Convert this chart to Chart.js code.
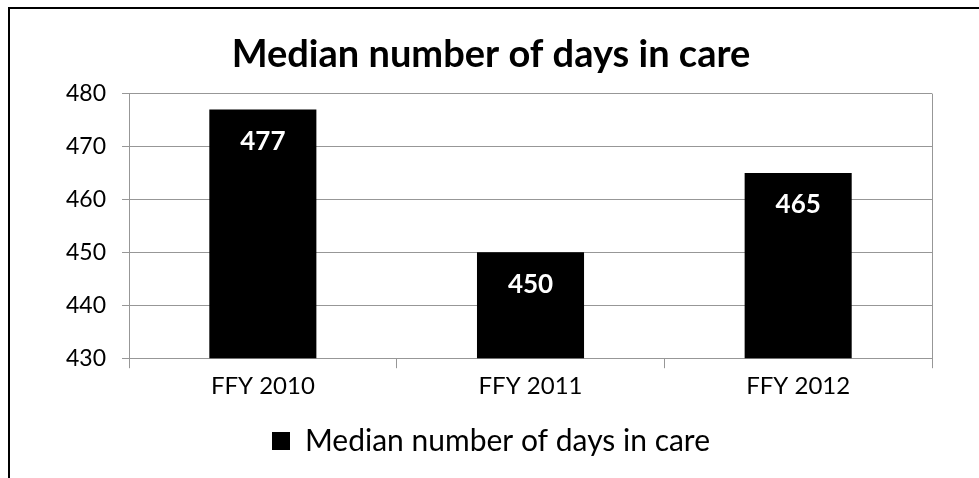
<!DOCTYPE html>
<html>
<head>
<meta charset="utf-8">
<script src="https://cdn.jsdelivr.net/npm/chart.js@4"></script>
<style>
  html, body { margin: 0; padding: 0; background: #fff; overflow: hidden; }
  #wrap { position: relative; width: 979px; height: 478px; }
  #frame {
    position: absolute; left: 8px; top: 7px; width: 1000px; height: 1000px;
    border-top: 2px solid #000; border-left: 2px solid #000;
  }
  canvas { position: absolute; left: 0; top: 0; }
</style>
</head>
<body>
<div id="wrap">
  <div id="frame"></div>
  <canvas id="chart" width="979" height="478"></canvas>
</div>
<script>
const years = ["FFY 2010", "FFY 2011", "FFY 2012"];
const medianDays = [477, 450, 465];
const seriesName = "Median number of days in care";
const yMin = 430;
const yMax = 480;
const yStep = 10;

const gridGray = "#979797";

// white value labels inside the top of each bar
const barValues = {
  id: "barValues",
  afterDatasetsDraw(chart) {
    const ctx = chart.ctx;
    ctx.save();
    ctx.fillStyle = "#fff";
    ctx.font = "bold 26px Lato";
    ctx.textAlign = "center";
    ctx.textBaseline = "middle";
    chart.getDatasetMeta(0).data.forEach((bar, i) => {
      ctx.fillText(String(medianDays[i]), bar.x, bar.y + 32);
    });
    ctx.restore();
  },
};

// right edge of the plot area
const plotEdge = {
  id: "plotEdge",
  beforeDatasetsDraw(chart) {
    const a = chart.chartArea;
    const ctx = chart.ctx;
    ctx.save();
    ctx.strokeStyle = gridGray;
    ctx.lineWidth = 1;
    ctx.beginPath();
    ctx.moveTo(Math.round(a.right) + 0.5, a.top);
    ctx.lineTo(Math.round(a.right) + 0.5, a.bottom);
    ctx.stroke();
    ctx.restore();
  },
};

const chart = new Chart(document.getElementById("chart").getContext("2d"), {
  type: "bar",
  data: {
    labels: years,
    datasets: [
      {
        label: seriesName,
        data: medianDays,
        backgroundColor: "#000",
        borderWidth: 0,
        barPercentage: 0.4,
        categoryPercentage: 1,
      },
    ],
  },
  options: {
    responsive: false,
    animation: false,
    layout: { padding: { left: 50, right: 47, top: 0, bottom: 12 } },
    plugins: {
      title: {
        display: true,
        text: seriesName,
        color: "#000",
        font: { family: "Lato", size: 38, weight: "bold", lineHeight: 1.2 },
        padding: { top: 32, bottom: 16 },
      },
      legend: {
        position: "bottom",
        labels: {
          color: "#000",
          font: { family: "Lato", size: 30 },
          boxWidth: 18,
          boxHeight: 18,
          padding: 21,
        },
      },
      tooltip: { enabled: false },
    },
    scales: {
      x: {
        grid: {
          display: true,
          drawOnChartArea: false,
          drawTicks: true,
          tickLength: 10,
          color: gridGray,
        },
        border: { color: gridGray },
        ticks: {
          color: "#000",
          font: { family: "Lato", size: 24 },
          padding: 4,
        },
      },
      y: {
        min: yMin,
        max: yMax,
        grid: { color: gridGray, tickLength: 7 },
        border: { color: gridGray },
        ticks: {
          stepSize: yStep,
          color: "#000",
          font: { family: "Lato", size: 23 },
          padding: 16,
        },
      },
    },
  },
  plugins: [barValues, plotEdge],
});
</script>
</body>
</html>
